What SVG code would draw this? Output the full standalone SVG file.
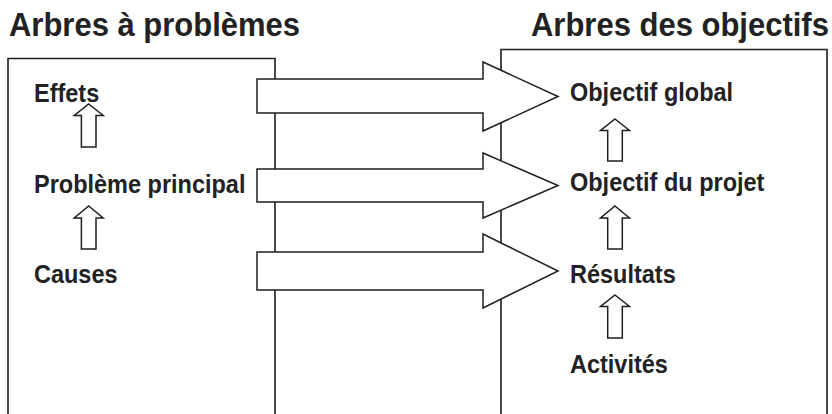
<svg xmlns="http://www.w3.org/2000/svg" width="832" height="414" viewBox="0 0 832 414">
<style>
.box{fill:none;stroke:#1e1e1e;stroke-width:1.6}
.arr{fill:#fff;stroke:#1e1e1e;stroke-width:1.5;stroke-linejoin:miter}
.title{font-family:"Liberation Sans",Arial,sans-serif;font-weight:bold;font-size:31px;fill:#222}
.lbl{font-family:"Liberation Sans",Arial,sans-serif;font-weight:bold;font-size:23.5px;fill:#222}
</style>
<rect width="832" height="414" fill="#fff"/>
<g id="arbre-problemes">
<text class="title" transform="translate(9,36) scale(1,1.05)">Arbres à problèmes</text>
<path class="box" d="M8,420 V58.5 H275 V420"/>
</g>
<g id="arbre-objectifs">
<text class="title" transform="translate(531,36) scale(1,1.05)" font-size="30.5">Arbres des objectifs</text>
<path class="box" d="M501,420 V49.5 H827 V420"/>
</g>
<g id="effets"><text class="lbl" transform="translate(34,102) scale(1,1.1)">Effets</text></g>
<g id="probleme"><text class="lbl" transform="translate(34,192.5) scale(1,1.1)">Problème principal</text></g>
<g id="causes"><text class="lbl" transform="translate(34,283) scale(1,1.1)">Causes</text></g>
<g id="objectif-global"><text class="lbl" transform="translate(570,100.5) scale(1,1.1)">Objectif global</text></g>
<g id="objectif-projet"><text class="lbl" transform="translate(570,191) scale(1,1.1)">Objectif du projet</text></g>
<g id="resultats"><text class="lbl" transform="translate(570,283) scale(1,1.1)">Résultats</text></g>
<g id="activites"><text class="lbl" transform="translate(570,373) scale(1,1.1)">Activités</text></g>
<g id="connectors">
<polygon class="arr" points="257,79 483,79 483,62 558,96.5 483,131 483,113 257,113"/>
<polygon class="arr" points="257,169 483,169 483,153 558,185.5 483,218 483,202 257,202"/>
<polygon class="arr" points="257,252 483,252 483,234 558,271 483,308 483,290 257,290"/>
<polygon class="arr" points="88.7,104 103.2,115.5 96,115.5 96,147 81.4,147 81.4,115.5 74.2,115.5"/>
<polygon class="arr" points="88.7,206 103.2,218 96,218 96,249 81.4,249 81.4,218 74.2,218"/>
<polygon class="arr" points="615,119 629.5,130.5 622.3,130.5 622.3,161 607.7,161 607.7,130.5 600.5,130.5"/>
<polygon class="arr" points="615,206 629.5,218 622.3,218 622.3,249 607.7,249 607.7,218 600.5,218"/>
<polygon class="arr" points="615,295 629.5,306.5 622.3,306.5 622.3,338 607.7,338 607.7,306.5 600.5,306.5"/>
</g>
</svg>
